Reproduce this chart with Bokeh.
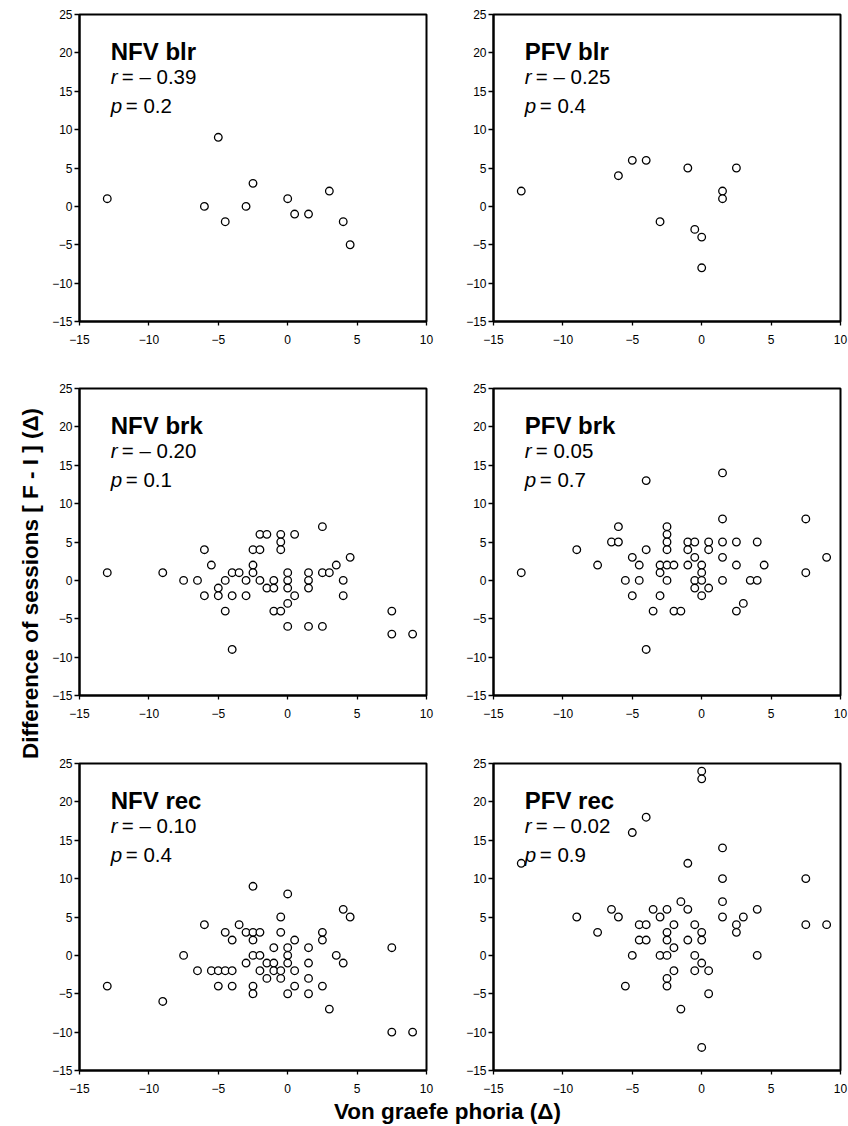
import math
from bokeh.plotting import figure
from bokeh.layouts import row, column
from bokeh.models import Range1d, FixedTicker
from bokeh.core.properties import value
from bokeh.embed import file_html
from bokeh.resources import INLINE

# ---------------- data ----------------
x_ticks = [-15, -10, -5, 0, 5, 10]
y_ticks = [-15, -10, -5, 0, 5, 10, 15, 20, 25]
x_tick_labels = ["\u221215", "\u221210", "\u22125", "0", "5", "10"]
y_tick_labels = ["\u221215", "\u221210", "\u22125", "0", "5", "10", "15", "20", "25"]

panel_titles = ["NFV blr", "PFV blr", "NFV brk", "PFV brk", "NFV rec", "PFV rec"]
r_values = ["= \u2013 0.39", "= \u2013 0.25", "= \u2013 0.20", "= 0.05", "= \u2013 0.10", "= \u2013 0.02"]
p_values = ["= 0.2", "= 0.4", "= 0.1", "= 0.7", "= 0.4", "= 0.9"]

nfv_blr_x = [-13, -6, -5, -4.5, -3, -2.5, 0, 0.5, 1.5, 3, 4, 4.5]
nfv_blr_y = [1, 0, 9, -2, 0, 3, 1, -1, -1, 2, -2, -5]

pfv_blr_x = [-13, -6, -5, -4, -3, -1, -0.5, 0, 0, 1.5, 1.5, 2.5]
pfv_blr_y = [2, 4, 6, 6, -2, 5, -3, -4, -8, 2, 1, 5]

nfv_brk_x = [-13, -9, -7.5, -6.5, -6, -6, -5.5, -5, -5, -4.5, -4.5, -4, -4, -4, -3.5, -3, -3,
             -2.5, -2.5, -2.5, -2, -2, -2, -1.5, -1.5, -1, -1, -1, -0.5, -0.5, -0.5, -0.5,
             0, 0, 0, 0, 0, 0.5, 0.5, 1.5, 1.5, 1.5, 1.5, 2.5, 2.5, 2.5, 3, 3.5, 4, 4, 4.5,
             7.5, 7.5, 9]
nfv_brk_y = [1, 1, 0, 0, 4, -2, 2, -1, -2, 0, -4, 1, -2, -9, 1, 0, -2,
             4, 2, 1, 6, 4, 0, 6, -1, 0, -1, -4, 6, 5, 4, -4,
             1, 0, -1, -3, -6, 6, -2, 1, 0, -1, -6, 7, 1, -6, 1, 2, 0, -2, 3,
             -4, -7, -7]

pfv_brk_x = [-13, -9, -7.5, -6.5, -6, -6, -5.5, -5, -5, -4.5, -4.5, -4, -4, -4, -3.5, -3, -3, -3,
             -2.5, -2.5, -2.5, -2.5, -2.5, -2.5, -2, -2, -1.5, -1, -1, -1, -0.5, -0.5, -0.5, -0.5,
             0, 0, 0, 0, 0.5, 0.5, 0.5, 1.5, 1.5, 1.5, 1.5, 1.5, 2.5, 2.5, 2.5, 3, 3.5, 4, 4, 4.5,
             7.5, 7.5, 9]
pfv_brk_y = [1, 4, 2, 5, 7, 5, 0, 3, -2, 2, 0, 13, 4, -9, -4, 2, 1, -2,
             7, 6, 5, 4, 2, 0, 2, -4, -4, 5, 4, 2, 5, 3, 0, -1,
             2, 1, 0, -2, 5, 4, -1, 14, 8, 5, 3, 0, 5, 2, -4, -3, 0, 5, 0, 2,
             8, 1, 3]

nfv_rec_x = [-13, -9, -7.5, -6.5, -6, -5.5, -5, -5, -4.5, -4.5, -4, -4, -4, -3.5, -3, -3,
             -2.5, -2.5, -2.5, -2.5, -2.5, -2.5, -2, -2, -2, -1.5, -1.5, -1, -1, -1,
             -0.5, -0.5, -0.5, -0.5, 0, 0, 0, 0, 0, 0.5, 0.5, 0.5, 1.5, 1.5, 1.5, 1.5,
             2.5, 2.5, 2.5, 3, 3.5, 4, 4, 4.5, 7.5, 7.5, 9]
nfv_rec_y = [-4, -6, 0, -2, 4, -2, -2, -4, 3, -2, 2, -2, -4, 4, 3, -1,
             9, 3, 2, 0, -4, -5, 3, 0, -2, -1, -3, 1, -1, -2,
             5, 3, -2, -3, 8, 1, 0, -1, -5, 2, -2, -4, 1, -1, -3, -5,
             3, 2, -4, -7, 0, 6, -1, 5, 1, -10, -10]

pfv_rec_x = [-13, -9, -7.5, -6.5, -6, -5.5, -5, -5, -4.5, -4.5, -4, -4, -4, -3.5, -3, -3,
             -2.5, -2.5, -2.5, -2.5, -2.5, -2.5, -2, -2, -2, -1.5, -1.5, -1, -1, -1,
             -0.5, -0.5, -0.5, 0, 0, 0, 0, 0, 0, 0.5, 0.5, 1.5, 1.5, 1.5, 1.5,
             2.5, 2.5, 3, 4, 4, 7.5, 7.5, 9]
pfv_rec_y = [12, 5, 3, 6, 5, -4, 16, 0, 4, 2, 18, 4, 2, 6, 5, 0,
             6, 3, 2, 0, -3, -4, 4, 1, -2, 7, -7, 12, 6, 2,
             4, 0, -2, 24, 23, 3, 2, -1, -12, -2, -5, 14, 10, 7, 5,
             4, 3, 5, 6, 0, 10, 4, 4]

series_x = [nfv_blr_x, pfv_blr_x, nfv_brk_x, pfv_brk_x, nfv_rec_x, pfv_rec_x]
series_y = [nfv_blr_y, pfv_blr_y, nfv_brk_y, pfv_brk_y, nfv_rec_y, pfv_rec_y]

y_title = "Difference of sessions [ F - I ] (\u0394)"
x_title = "Von graefe phoria (\u0394)"

# ---------------- style / layout ----------------
FONT = "Liberation Sans"
FRAME_W, FRAME_H = 347, 307
LEFT_B = 31
YT_W = 79 - LEFT_B
MID_B = 36
RIGHT_B = 8
ROW_TOP = [14, 6, 6]
ROW_BOTTOM = [61, 62, 26]
XT_H = 29

# text placement in data coordinates (annotation layout)
TX = -12.75
TITLE_Y, R_Y, P_Y = 20.15, 16.95, 13.2


def make_panel(i, border_left, border_right, border_top, border_bottom):
    p = figure(frame_width=FRAME_W, frame_height=FRAME_H, title=None,
               x_range=Range1d(-15, 10), y_range=Range1d(-15, 25),
               min_border_left=border_left, min_border_right=border_right,
               min_border_top=border_top, min_border_bottom=border_bottom,
               output_backend="svg", toolbar_location=None,
               background_fill_color="white", border_fill_color="white")
    p.outline_line_color = "black"
    p.outline_line_width = 2
    p.xgrid.visible = False
    p.ygrid.visible = False
    for ax, ticks, labels in ((p.xaxis[0], x_ticks, x_tick_labels),
                              (p.yaxis[0], y_ticks, y_tick_labels)):
        ax.ticker = FixedTicker(ticks=ticks)
        ax.major_label_overrides = {t: l for t, l in zip(ticks, labels)}
        ax.axis_line_color = "black"
        ax.axis_line_width = 2
        ax.major_tick_line_color = "black"
        ax.major_tick_line_width = 1.3
        ax.major_tick_in = 0
        ax.minor_tick_line_color = None
        ax.major_label_text_font = FONT
        ax.major_label_text_font_size = "12px"
        ax.major_label_text_color = "black"
    p.xaxis.major_tick_out = 4
    p.xaxis.major_label_standoff = 9
    p.yaxis.major_tick_out = 5
    p.yaxis.major_label_standoff = 2

    p.scatter(series_x[i], series_y[i], marker="circle", size=7.6,
              fill_color="white", line_color="black", line_width=1.3)

    p.text(x=[TX], y=[TITLE_Y], text=[panel_titles[i]], text_font=value(FONT),
           text_font_style="bold", text_font_size="24px", text_color="black",
           text_baseline="alphabetic", text_align="left")
    p.text(x=[TX], y=[R_Y], text=["r"], text_font=value(FONT),
           text_font_style="italic", text_font_size="20.5px", text_color="black",
           text_baseline="alphabetic", text_align="left")
    p.text(x=[TX], y=[R_Y], text=[r_values[i]], text_font=value(FONT), x_offset=11,
           text_font_size="20.5px", text_color="black",
           text_baseline="alphabetic", text_align="left")
    p.text(x=[TX], y=[P_Y], text=["p"], text_font=value(FONT),
           text_font_style="italic", text_font_size="20.5px", text_color="black",
           text_baseline="alphabetic", text_align="left")
    p.text(x=[TX], y=[P_Y], text=[p_values[i]], text_font=value(FONT), x_offset=15,
           text_font_size="20.5px", text_color="black",
           text_baseline="alphabetic", text_align="left")
    return p


rows = []
for r in range(3):
    left = make_panel(2 * r, LEFT_B, MID_B, ROW_TOP[r], ROW_BOTTOM[r])
    right = make_panel(2 * r + 1, LEFT_B, RIGHT_B, ROW_TOP[r], ROW_BOTTOM[r])
    rows.append(row(left, right, spacing=0))
grid = column(*rows, spacing=0)

grid_h = sum(t + FRAME_H + b for t, b in zip(ROW_TOP, ROW_BOTTOM))
total_w = YT_W + 2 * (LEFT_B + FRAME_W) + MID_B + RIGHT_B

# y title (rotated)
yt = figure(width=YT_W, height=grid_h, title=None,
            x_range=Range1d(0, YT_W), y_range=Range1d(0, grid_h),
            x_axis_location=None, y_axis_location=None, min_border=0,
            output_backend="svg", toolbar_location=None)
yt.outline_line_color = None
yt.grid.visible = False
yt.text(x=[30], y=[grid_h - 583], text=[y_title], angle=math.pi / 2,
        text_font=value(FONT), text_font_style="bold", text_font_size="22.5px",
        text_color="black", text_align="center", text_baseline="middle")

# x title
xt = figure(width=total_w, height=XT_H, title=None,
            x_range=Range1d(0, total_w), y_range=Range1d(0, XT_H),
            x_axis_location=None, y_axis_location=None, min_border=0,
            output_backend="svg", toolbar_location=None)
xt.outline_line_color = None
xt.grid.visible = False
xt.text(x=[447], y=[XT_H / 2], text=[x_title],
        text_font=value(FONT), text_font_style="bold", text_font_size="22.5px",
        text_color="black", text_align="center", text_baseline="middle")

layout = column(row(yt, grid, spacing=0), xt, spacing=0)

open("out.html", "w").write(file_html(layout, INLINE))
